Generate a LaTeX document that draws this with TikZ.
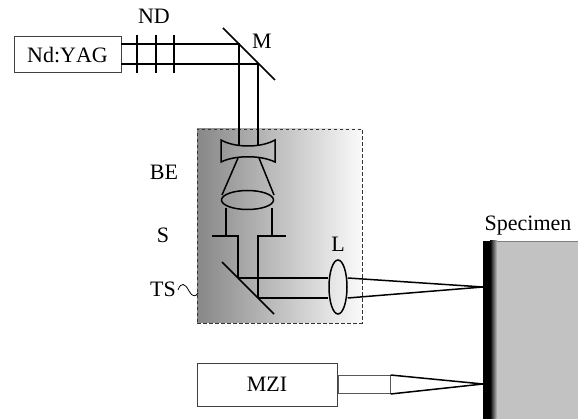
\documentclass[tikz,border=0pt]{standalone}
\usepackage{fontspec}
\setmainfont{Liberation Serif}
\usetikzlibrary{shapes.geometric, positioning}

\begin{document}
\begin{tikzpicture}[
    x=1pt, y=-1pt,
    box/.style={rectangle, draw=black!75, fill=white, line width=1pt, inner sep=0pt,
                font=\fontsize{22}{24}\selectfont},
    lbl/.style={anchor=base, inner sep=0pt, font=\fontsize{22}{24}\selectfont},
    beam/.style={line width=1.5pt, black},
    optic/.style={line width=1.5pt, black},
    lensnode/.style={ellipse, draw=black, line width=1.5pt, inner sep=0pt}
  ]
    \useasboundingbox (0,0) rectangle (578,419);

    \node[rectangle, draw=black!80, dash pattern=on 3.5pt off 2.5pt, line width=0.8pt, inner sep=0pt,
          left color=black!47, right color=black!2,
          minimum width=165pt, minimum height=194pt] (unit) at (279.5,226) {};

    \fill[black] (483,241) rectangle (490,419);
    \fill[left color=black, right color=black!24, draw=none] (490,241) rectangle (497,419);
    \fill[black!24] (497,241) rectangle (578,419);
    \draw[black!50, line width=0.6pt] (497,241) -- (578,241);

    \node[box, minimum width=107pt, minimum height=36pt] (yag) at (67.5,55) {\addfontfeature{Kerning=Off}Nd:YAG};
    \node[box, minimum width=140pt, minimum height=43pt] (mzi) at (267,384.5) {MZI};
    \node[rectangle, draw=black!65, fill=white, line width=1pt, inner sep=0pt,
          minimum width=52pt, minimum height=18pt, right=0pt of mzi] (probe) {};

    \coordinate (y1) at (121,44);
    \coordinate (y2) at (121,64);
    \coordinate (m1) at (239,44);
    \coordinate (m2) at (258,64);
    \coordinate (c1) at (239,146);
    \coordinate (c2) at (258,146);
    \coordinate (t1) at (238,278);
    \coordinate (t2) at (258,298);
    \coordinate (h1) at (238,236);
    \coordinate (h2) at (258,236);
    \coordinate (spot) at (483,287);
    \coordinate (mzispot) at (483,384);

    \draw[beam] (y1) -- (m1) -- (c1);
    \draw[beam] (y2) -- (m2) -- (c2);

    \foreach \xnd in {137,156,174}
      \draw[optic, line width=1.2pt] (\xnd,35) -- (\xnd,73);

    \draw[optic] (223,28) -- (275,80);

    \draw[optic] (221,140) .. controls (235,148) and (261,148) .. (275,140)
      -- (275,162) .. controls (261,155) and (235,155) .. (221,162) -- cycle;

    \node[lensnode, minimum width=52pt, minimum height=19pt] (conv) at (247.5,200) {};
    \draw[beam] (238,158) -- (222,195);
    \draw[beam] (259,158) -- (274,195);

    \coordinate (s1) at (226,236);
    \coordinate (s2) at (272,236);
    \draw[beam] (226,208) -- (s1);
    \draw[beam] (272,208) -- (s2);
    \draw[optic] (212,236) -- (h1) -- (t1);
    \draw[optic] (286,236) -- (h2) -- (t2);

    \draw[optic] (222,262) -- (274,314);

    \node[lensnode, minimum width=18pt, minimum height=54pt] (lensL) at (338,287) {};
    \draw[beam] (t1) -- (lensL.west |- t1);
    \draw[beam] (t2) -- (lensL.west |- t2);
    \draw[beam] (lensL.east |- t1) -- (spot);
    \draw[beam] (lensL.east |- t2) -- (spot);

    \draw[beam] (probe.north east) -- (mzispot);
    \draw[beam] (probe.south east) -- (mzispot);

    \node[lbl] (ndlbl) at (154,24) {ND};
    \node[lbl] (mlbl) at (262,49) {M};
    \node[lbl] (belbl) at (164,180) {BE};
    \node[lbl] (slbl) at (163,243) {S};
    \node[lbl] (tslbl) at (163,297) {TS};
    \node[lbl] (llbl) at (338,252) {L};
    \node[lbl] (speclbl) at (528,231) {Specimen};

    \draw[black, line width=0.8pt] (tslbl.east) ++(2,0) .. controls (181,282) and (185,283) .. (189,291)
      .. controls (192,297) and (196,297) .. (198,293);
  \end{tikzpicture}
\end{document}
